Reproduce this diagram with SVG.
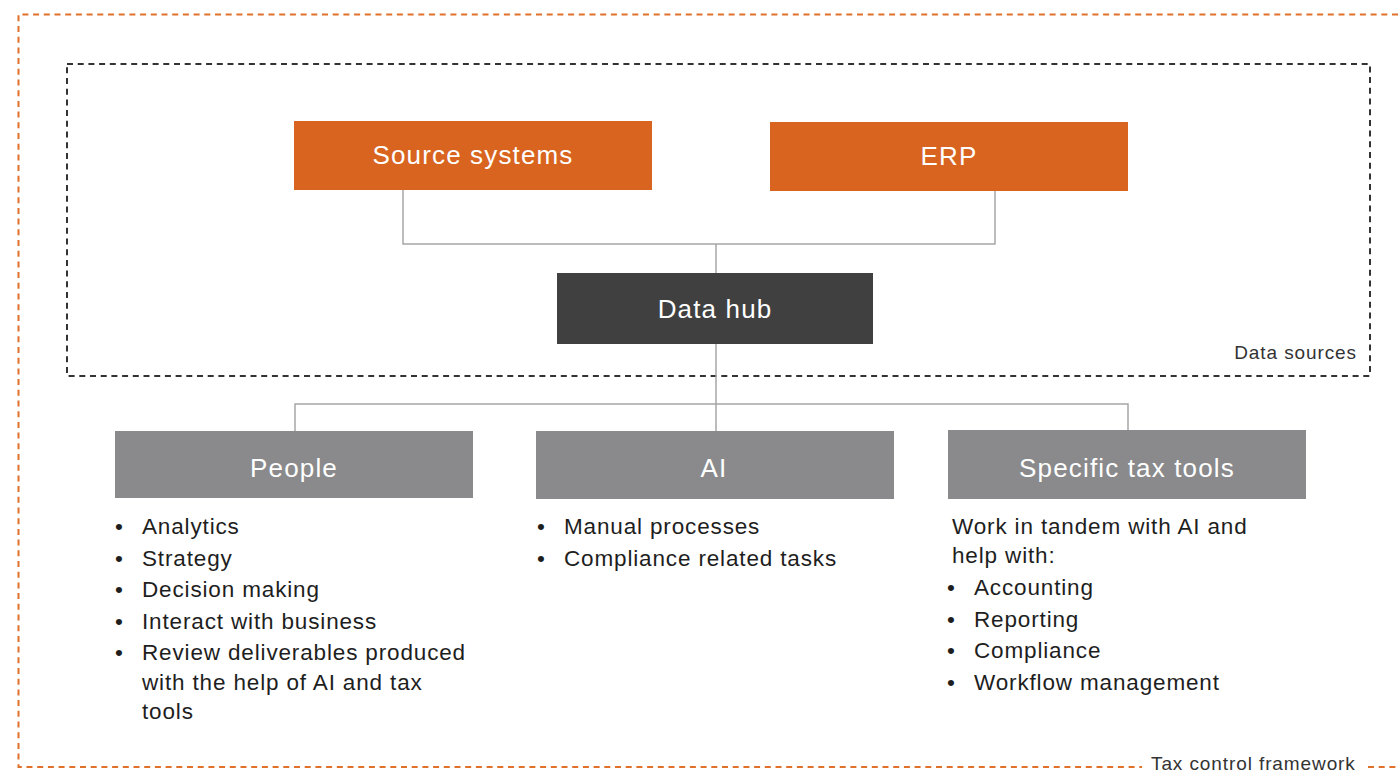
<svg xmlns="http://www.w3.org/2000/svg" width="1398" height="772" viewBox="0 0 1398 772">
<style>
.frame-o{fill:none;stroke:#e0712b;stroke-width:2;stroke-dasharray:6 4.7}
.frame-d{fill:none;stroke:#333333;stroke-width:2;stroke-dasharray:6 4.7}
.conn{fill:none;stroke:#a6a6a6;stroke-width:1.5}
.lbl{font-family:"Liberation Sans",Arial,sans-serif;font-size:26px;letter-spacing:1.15px;fill:#ffffff;text-anchor:middle}
.txt{font-family:"Liberation Sans",Arial,sans-serif;font-size:22.5px;letter-spacing:0.85px;fill:#1e1e1e}
.cap{font-family:"Liberation Sans",Arial,sans-serif;font-size:19px;letter-spacing:0.9px;fill:#333333}
.orange{fill:#d8641f}
.dark{fill:#404041}
.grey{fill:#8a8a8c}
</style>
<rect width="1398" height="772" fill="#ffffff"/>
<g id="tax-control-framework">
<path class="frame-o" d="M1398 14.5 H18.5 V767 H1142"/>
<path class="frame-o" d="M1368 767 H1398"/>
<text class="cap" x="1151" y="770">Tax control framework</text>
</g>
<g id="data-sources">
<rect class="frame-d" x="67" y="64" width="1303" height="312"/>
<text class="cap" x="1357" y="359" text-anchor="end">Data sources</text>
</g>
<g id="connectors">
<path class="conn" d="M403 190 V244 H995 V191"/>
<path class="conn" d="M716 244 V273"/>
<path class="conn" d="M716 344 V404"/>
<path class="conn" d="M295 431 V404 H1128 V430"/>
<path class="conn" d="M716 404 V431"/>
</g>
<g id="source-systems">
<rect class="orange" x="294" y="121" width="358" height="69"/>
<text class="lbl" x="473" y="164">Source systems</text>
</g>
<g id="erp">
<rect class="orange" x="770" y="122" width="358" height="69"/>
<text class="lbl" x="949" y="165">ERP</text>
</g>
<g id="data-hub">
<rect class="dark" x="557" y="273" width="316" height="71"/>
<text class="lbl" x="715" y="318">Data hub</text>
</g>
<g id="people">
<rect class="grey" x="115" y="431" width="358" height="67"/>
<text class="lbl" x="294" y="477">People</text>
<text class="txt">
<tspan x="115" y="534">•</tspan><tspan x="142" y="534">Analytics</tspan>
<tspan x="115" y="566">•</tspan><tspan x="142" y="566">Strategy</tspan>
<tspan x="115" y="597">•</tspan><tspan x="142" y="597">Decision making</tspan>
<tspan x="115" y="629">•</tspan><tspan x="142" y="629">Interact with business</tspan>
<tspan x="115" y="660">•</tspan><tspan x="142" y="660">Review deliverables produced</tspan>
<tspan x="142" y="690">with the help of AI and tax</tspan>
<tspan x="142" y="719">tools</tspan>
</text>
</g>
<g id="ai">
<rect class="grey" x="536" y="431" width="358" height="68"/>
<text class="lbl" x="714" y="477">AI</text>
<text class="txt">
<tspan x="537" y="534">•</tspan><tspan x="564" y="534">Manual processes</tspan>
<tspan x="537" y="566">•</tspan><tspan x="564" y="566">Compliance related tasks</tspan>
</text>
</g>
<g id="specific-tax-tools">
<rect class="grey" x="948" y="430" width="358" height="69"/>
<text class="lbl" x="1127" y="477">Specific tax tools</text>
<text class="txt">
<tspan x="952" y="534">Work in tandem with AI and</tspan>
<tspan x="952" y="563">help with:</tspan>
<tspan x="947" y="595">•</tspan><tspan x="974" y="595">Accounting</tspan>
<tspan x="947" y="627">•</tspan><tspan x="974" y="627">Reporting</tspan>
<tspan x="947" y="658">•</tspan><tspan x="974" y="658">Compliance</tspan>
<tspan x="947" y="690">•</tspan><tspan x="974" y="690">Workflow management</tspan>
</text>
</g>
</svg>
